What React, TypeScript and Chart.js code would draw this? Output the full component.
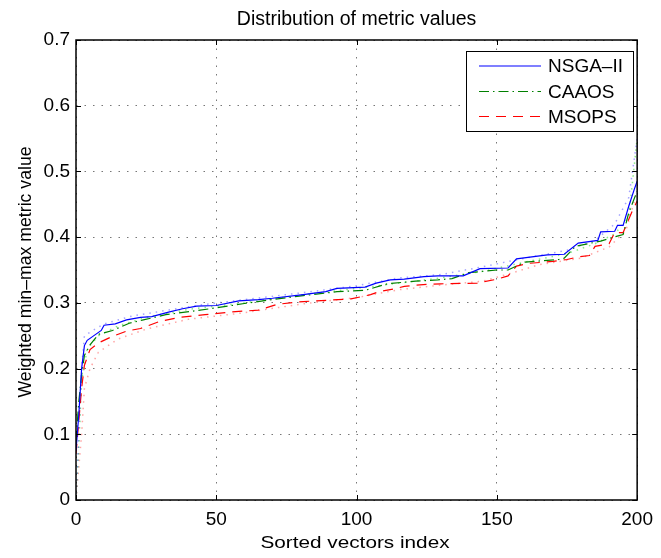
import React, { useEffect, useRef } from "react";
import { Chart, registerables } from "chart.js";

Chart.register(...registerables);

const chartTitle = "Distribution of metric values";
const xAxisLabel = "Sorted vectors index";
const yAxisLabel = "Weighted min\u2013max metric value";
const seriesNames = ["NSGA\u2013II", "CAAOS", "MSOPS"];
const xTickValues = [0, 50, 100, 150, 200];
const yTickValues = [0, 0.1, 0.2, 0.3, 0.4, 0.5, 0.6, 0.7];

const nsgaIndex = [0, 1, 2, 3, 4, 6, 9, 10, 14, 18, 23, 27, 33, 38, 43, 50, 58, 65, 70, 81, 89, 93, 103, 107, 112, 117, 124, 129, 138, 144, 154, 157, 168, 174, 179, 186, 187, 192, 193, 195, 197, 199, 200];
const nsgaValue = [0.075, 0.13, 0.2, 0.235, 0.243, 0.249, 0.258, 0.266, 0.268, 0.274, 0.278, 0.279, 0.286, 0.291, 0.295, 0.296, 0.303, 0.305, 0.307, 0.3125, 0.317, 0.322, 0.324, 0.33, 0.335, 0.336, 0.34, 0.341, 0.341, 0.352, 0.353, 0.367, 0.373, 0.374, 0.391, 0.395, 0.408, 0.409, 0.418, 0.418, 0.447, 0.473, 0.485];

const caaosIndex = [0, 1, 2, 3, 5, 8, 13, 19, 24, 32, 41, 51, 60, 70, 81, 93, 103, 111, 121, 129, 134, 140, 150, 154, 157, 160, 172, 174, 178, 187, 190, 195, 197, 200];
const caaosValue = [0.09, 0.15, 0.19, 0.22, 0.236, 0.252, 0.258, 0.269, 0.274, 0.282, 0.287, 0.293, 0.299, 0.305, 0.311, 0.317, 0.319, 0.329, 0.333, 0.335, 0.337, 0.346, 0.35, 0.35, 0.356, 0.362, 0.366, 0.368, 0.386, 0.394, 0.398, 0.404, 0.437, 0.47];

const msopsIndex = [0, 1, 2, 3, 5, 8, 13, 18, 23, 30, 37, 46, 55, 65, 72, 81, 90, 98, 105, 108, 113, 117, 121, 125, 130, 143, 150, 154, 157, 161, 170, 175, 179, 183, 185, 190, 192, 195, 198, 200];
const msopsValue = [0.07, 0.12, 0.17, 0.205, 0.229, 0.239, 0.249, 0.257, 0.261, 0.272, 0.278, 0.282, 0.286, 0.289, 0.298, 0.302, 0.304, 0.306, 0.3125, 0.317, 0.321, 0.325, 0.327, 0.328, 0.329, 0.33, 0.336, 0.341, 0.356, 0.36, 0.363, 0.366, 0.37, 0.372, 0.386, 0.39, 0.407, 0.407, 0.437, 0.455];

// lighter dotted companion traces
const nsgaDotIndex = [0, 1, 2, 3, 6, 10, 20, 30, 45, 60, 80, 100, 115, 130, 145, 160, 175, 185, 192, 197, 200];
const nsgaDotValue = [0.0, 0.1, 0.2, 0.25, 0.258, 0.268, 0.28, 0.287, 0.297, 0.305, 0.315, 0.326, 0.338, 0.343, 0.355, 0.368, 0.38, 0.395, 0.42, 0.46, 0.55];
const caaosDotIndex = [0, 1, 2, 4, 8, 15, 25, 40, 60, 80, 100, 115, 130, 145, 160, 175, 185, 192, 197, 200];
const caaosDotValue = [0.0, 0.08, 0.18, 0.23, 0.25, 0.265, 0.278, 0.29, 0.3, 0.312, 0.322, 0.33, 0.338, 0.348, 0.362, 0.375, 0.39, 0.405, 0.43, 0.55];
const msopsDotIndex = [0, 1, 2, 3, 5, 8, 15, 25, 40, 60, 80, 100, 115, 130, 145, 155, 165, 180, 190, 196, 200];
const msopsDotValue = [0.0, 0.05, 0.1, 0.17, 0.2, 0.225, 0.245, 0.26, 0.275, 0.285, 0.298, 0.308, 0.32, 0.327, 0.333, 0.345, 0.358, 0.368, 0.385, 0.41, 0.47];

const FONT = "'Liberation Sans', Arial, Helvetica, sans-serif";

const toPoints = (xs: number[], ys: number[]) => xs.map((x, i) => ({ x, y: ys[i] }));

const matlabPlugin = {
  id: "matlabDecor",
  afterDraw(chart: any) {
    const { ctx, chartArea } = chart;
    const { left, right, top, bottom } = chartArea;
    const xs = chart.scales.x;
    const ys = chart.scales.y;
    ctx.save();
    // tick marks (inward)
    ctx.strokeStyle = "#000";
    ctx.lineWidth = 1;
    ctx.setLineDash([]);
    ctx.beginPath();
    xTickValues.forEach((v) => {
      const px = Math.round(xs.getPixelForValue(v)) + 0.5;
      ctx.moveTo(px, bottom);
      ctx.lineTo(px, bottom - 5);
      ctx.moveTo(px, top);
      ctx.lineTo(px, top + 5);
    });
    yTickValues.forEach((v) => {
      const py = Math.round(ys.getPixelForValue(v)) + 0.5;
      ctx.moveTo(left, py);
      ctx.lineTo(left + 5, py);
      ctx.moveTo(right, py);
      ctx.lineTo(right - 5, py);
    });
    ctx.stroke();
    // box
    ctx.lineWidth = 1.5;
    ctx.strokeRect(left, top, right - left, bottom - top);

    // title
    ctx.fillStyle = "#000";
    ctx.font = `19.5px ${FONT}`;
    ctx.textAlign = "center";
    ctx.textBaseline = "alphabetic";
    ctx.fillText(chartTitle, (left + right) / 2, 25);

    // x label (wide glyphs)
    ctx.save();
    ctx.translate(355, 548);
    ctx.scale(1.22, 1);
    ctx.font = `17px ${FONT}`;
    ctx.fillText(xAxisLabel, 0, 0);
    ctx.restore();

    // y label
    ctx.save();
    ctx.translate(31, 272);
    ctx.rotate(-Math.PI / 2);
    ctx.scale(0.93, 1);
    ctx.font = `19px ${FONT}`;
    ctx.fillText(yAxisLabel, 0, 0);
    ctx.restore();

    // legend
    const bx = 466, by = 51, bw = 167, bh = 80;
    ctx.fillStyle = "#fff";
    ctx.fillRect(bx, by, bw, bh);
    ctx.strokeStyle = "#000";
    ctx.lineWidth = 1;
    ctx.strokeRect(bx + 0.5, by + 0.5, bw, bh);
    const rows = [66, 91.5, 116.5];
    seriesNames.forEach((name, i) => {
      const ds = chart.data.datasets[i];
      ctx.strokeStyle = ds.borderColor;
      ctx.lineWidth = ds.borderWidth;
      ctx.setLineDash(ds.borderDash || []);
      ctx.beginPath();
      ctx.moveTo(479, rows[i]);
      ctx.lineTo(541, rows[i]);
      ctx.stroke();
      ctx.setLineDash([]);
      ctx.fillStyle = "#000";
      ctx.font = `19px ${FONT}`;
      ctx.textAlign = "left";
      ctx.textBaseline = "middle";
      ctx.fillText(name, 548, rows[i] + 1);
    });
    ctx.restore();
  },
};

export default function App() {
  const canvasRef = useRef<HTMLCanvasElement | null>(null);

  useEffect(() => {
    document.body.style.margin = "0";
    const canvas = canvasRef.current;
    if (!canvas) return;
    const chart = new Chart(canvas, {
      type: "line",
      data: {
        datasets: [
          {
            label: seriesNames[0],
            data: toPoints(nsgaIndex, nsgaValue),
            borderColor: "#0000ff",
            borderWidth: 1.2,
            pointRadius: 0,
            tension: 0,
          },
          {
            label: seriesNames[1],
            data: toPoints(caaosIndex, caaosValue),
            borderColor: "#008000",
            borderWidth: 1.2,
            borderDash: [10, 4, 1.5, 4],
            pointRadius: 0,
            tension: 0,
          },
          {
            label: seriesNames[2],
            data: toPoints(msopsIndex, msopsValue),
            borderColor: "#ff0000",
            borderWidth: 1.2,
            borderDash: [10, 7],
            pointRadius: 0,
            tension: 0,
          },
          {
            label: "nsga-dots",
            data: toPoints(nsgaDotIndex, nsgaDotValue),
            borderColor: "rgba(90,90,255,0.55)",
            borderWidth: 1.5,
            borderDash: [1.5, 5],
            pointRadius: 0,
            tension: 0,
          },
          {
            label: "caaos-dots",
            data: toPoints(caaosDotIndex, caaosDotValue),
            borderColor: "rgba(60,220,60,0.6)",
            borderWidth: 1.5,
            borderDash: [1.5, 5],
            pointRadius: 0,
            tension: 0,
          },
          {
            label: "msops-dots",
            data: toPoints(msopsDotIndex, msopsDotValue),
            borderColor: "rgba(255,90,90,0.55)",
            borderWidth: 1.5,
            borderDash: [1.5, 5],
            pointRadius: 0,
            tension: 0,
          },
        ],
      },
      options: {
        responsive: false,
        animation: false,
        layout: { padding: { top: 40, right: 19, left: 0, bottom: 0 } },
        plugins: {
          legend: { display: false },
          title: { display: false },
          tooltip: { enabled: false },
        },
        scales: {
          x: {
            type: "linear",
            min: 0,
            max: 200,
            afterBuildTicks: (scale: any) => {
              scale.ticks = xTickValues.map((v) => ({ value: v }));
            },
            afterFit: (scale: any) => {
              scale.height = 58;
            },
            ticks: {
              color: "#000",
              font: { family: FONT, size: 19 },
              padding: 8,
              maxRotation: 0,
              callback: (v: any) => String(v),
            },
            grid: { color: "#777", lineWidth: 1, drawTicks: false },
            border: { display: false, dash: [1.5, 7] },
          },
          y: {
            type: "linear",
            min: 0,
            max: 0.7,
            afterBuildTicks: (scale: any) => {
              scale.ticks = yTickValues.map((v) => ({ value: v }));
            },
            afterFit: (scale: any) => {
              scale.width = 76;
            },
            ticks: {
              color: "#000",
              font: { family: FONT, size: 19 },
              padding: 6,
              callback: (v: any) => String(Math.round(Number(v) * 10) / 10),
            },
            grid: { color: "#777", lineWidth: 1, drawTicks: false },
            border: { display: false, dash: [1.5, 7] },
          },
        },
      },
      plugins: [matlabPlugin],
    });
    return () => chart.destroy();
  }, []);

  return <canvas ref={canvasRef} width={661} height={558} style={{ display: "block" }} />;
}
